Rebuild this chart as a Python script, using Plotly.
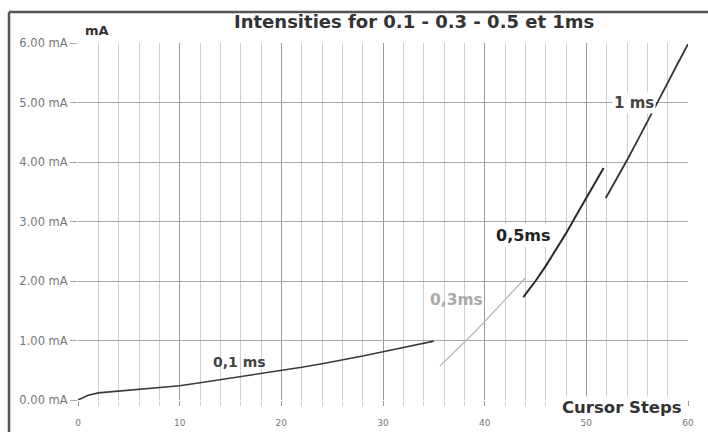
import plotly.graph_objects as go

# ---- data ----
x_01 = [0, 1, 2, 4, 6, 8, 10, 12, 14, 16, 18, 20, 22, 24, 26, 28, 30, 32, 34, 35]
y_01 = [0.0, 0.08, 0.12, 0.15, 0.17, 0.2, 0.24, 0.29, 0.34, 0.39, 0.44, 0.49,
        0.55, 0.61, 0.67, 0.74, 0.81, 0.88, 0.95, 0.99]

x_03 = [35.6, 37, 38, 39, 40, 41, 42, 43, 44]
y_03 = [0.57, 0.8, 0.97, 1.14, 1.32, 1.5, 1.68, 1.87, 2.05]

x_05 = [43.8, 45, 46, 47, 48, 49, 50, 51, 51.7]
y_05 = [1.73, 2.0, 2.25, 2.52, 2.8, 3.1, 3.4, 3.68, 3.9]

x_1 = [51.9, 53, 54, 55, 56, 57, 58, 59, 60]
y_1 = [3.39, 3.72, 4.03, 4.35, 4.67, 5.0, 5.33, 5.66, 5.98]

y_tick_vals = [0, 1, 2, 3, 4, 5, 6]
y_tick_text = ["0.00 mA", "1.00 mA", "2.00 mA", "3.00 mA", "4.00 mA", "5.00 mA", "6.00 mA"]
x_tick_vals = [0, 10, 20, 30, 40, 50, 60]

FONT = "DejaVu Sans"

fig = go.Figure()
fig.add_trace(go.Scatter(x=x_01, y=y_01, mode="lines", line=dict(color="#3a3a3a", width=1.6),
                         hoverinfo="skip", showlegend=False))
fig.add_trace(go.Scatter(x=x_03, y=y_03, mode="lines", line=dict(color="#b8b8b8", width=1.3),
                         hoverinfo="skip", showlegend=False))
fig.add_trace(go.Scatter(x=x_05, y=y_05, mode="lines", line=dict(color="#2a2a2a", width=2),
                         hoverinfo="skip", showlegend=False))
fig.add_trace(go.Scatter(x=x_1, y=y_1, mode="lines", line=dict(color="#333333", width=1.8),
                         hoverinfo="skip", showlegend=False))

fig.update_layout(
    width=708, height=432,
    margin=dict(l=78, r=20, t=43, b=32),
    paper_bgcolor="white", plot_bgcolor="white",
    font=dict(family=FONT, color="#555"),
    xaxis=dict(range=[0, 60], tickvals=x_tick_vals, showgrid=True, gridcolor="#9a9a9a", gridwidth=1.2,
               ticks="outside", ticklen=5, tickcolor="#9a9a9a", ticklabelstandoff=9,
               automargin=False,
               minor=dict(dtick=2, showgrid=True, gridcolor="#cfcfcf", gridwidth=1,
                          ticks="outside", ticklen=5, tickcolor="#cfcfcf"),
               tickfont=dict(size=9, color="#777"), zeroline=False, showline=False,
               fixedrange=True),
    yaxis=dict(range=[0, 6], tickvals=y_tick_vals, ticktext=y_tick_text, showgrid=True,
               gridcolor="#a8a8a8", gridwidth=1.2, ticks="outside", ticklen=7, tickcolor="#a8a8a8",
               automargin=False,
               tickfont=dict(size=11.5, color="#777"), zeroline=False, showline=False,
               fixedrange=True),
)

# outer frame (top and left edges visible)
fig.add_shape(type="line", xref="paper", yref="paper", x0=-0.1131, x1=1.04, y0=1.0868, y1=1.0868,
              line=dict(color="#555", width=2.5))
fig.add_shape(type="line", xref="paper", yref="paper", x0=-0.1131, x1=-0.1131, y0=-0.1, y1=1.0868,
              line=dict(color="#555", width=2.5))

ann = [
    dict(text="<b>Intensities for 0.1 - 0.3 - 0.5 et 1ms</b>", xref="paper", yref="paper",
         x=0.55, y=1.059, font=dict(size=18, color="#333")),
    dict(text="<b>mA</b>", xref="paper", yref="paper", x=0.031, y=1.036,
         font=dict(size=13, color="#333")),
    dict(text="<b>0,1 ms</b>", x=15.9, y=0.64, font=dict(size=14, color="#444")),
    dict(text="<b>0,3ms</b>", x=37.2, y=1.68, font=dict(size=15.5, color="#aaa")),
    dict(text="<b>0,5ms</b>", x=43.8, y=2.77, font=dict(size=16, color="#222"), bgcolor="white"),
    dict(text="<b>1 ms</b>", x=54.7, y=5.0, font=dict(size=15, color="#444"), bgcolor="white"),
    dict(text="<b>Cursor Steps</b>", xref="paper", yref="paper", x=0.892, y=-0.022,
         font=dict(size=16.5, color="#333"), bgcolor="white"),
]
for a in ann:
    fig.add_annotation(showarrow=False, xanchor="center", yanchor="middle", **a)

fig.write_html("out.html", config={"displayModeBar": False},
               post_script="document.body.style.margin='0px';document.body.style.overflow='hidden';")
